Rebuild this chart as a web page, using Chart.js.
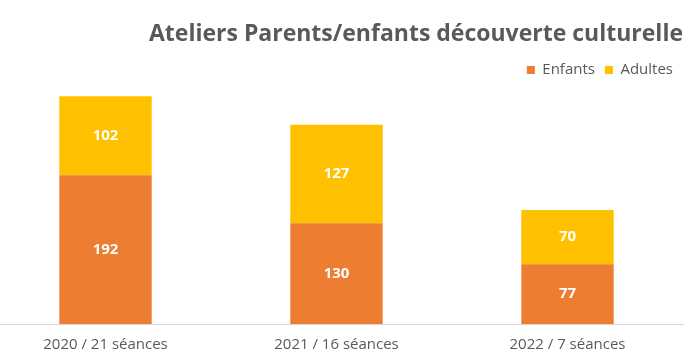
<!DOCTYPE html>
<html><head><meta charset="utf-8">
<script src="https://cdn.jsdelivr.net/npm/chart.js@4/dist/chart.umd.min.js"></script>
<style>
html,body{margin:0;padding:0;background:#fff;overflow:hidden;width:693px;height:356px}
#wrap{position:absolute;left:-10px;top:0;width:703px;height:356px}
</style></head><body>
<div id="wrap"><canvas id="c"></canvas></div>
<script>
const categories = ['2020 / 21 séances', '2021 / 16 séances', '2022 / 7 séances'];
const enfants = [192, 130, 77];
const adultes = [102, 127, 70];
const seriesNames = ['Enfants', 'Adultes'];
const titleText = 'Ateliers Parents/enfants découverte culturelle';

const barLabels = {
  id: 'barLabels',
  afterDatasetsDraw(chart) {
    const ctx = chart.ctx;
    ctx.save();
    ctx.fillStyle = '#ffffff';
    ctx.font = 'bold 15px "Open Sans"';
    ctx.textAlign = 'center';
    ctx.textBaseline = 'middle';
    chart.data.datasets.forEach((ds, i) => {
      const meta = chart.getDatasetMeta(i);
      meta.data.forEach((el, j) => {
        const p = el.getProps(['x', 'y', 'base'], true);
        ctx.fillText(String(ds.data[j]), p.x, (p.y + p.base) / 2);
      });
    });
    ctx.restore();
  }
};

new Chart(document.getElementById('c'), {
  type: 'bar',
  data: {
    labels: categories,
    datasets: [
      { label: seriesNames[0], data: enfants, backgroundColor: '#ED7D31', borderWidth: 0 },
      { label: seriesNames[1], data: adultes, backgroundColor: '#FFC000', borderWidth: 0 }
    ]
  },
  options: {
    responsive: true,
    maintainAspectRatio: false,
    animation: false,
    devicePixelRatio: 1,
    categoryPercentage: 1,
    barPercentage: 0.4,
    layout: { padding: { left: 0, right: 10, top: 0, bottom: -10 } },
    plugins: {
      tooltip: { enabled: false },
      title: {
        display: true, text: titleText, align: 'end', color: '#595959',
        font: { family: 'Open Sans', weight: 'bold', size: 23 },
        padding: { top: 21, bottom: 4 }
      },
      legend: {
        position: 'top', align: 'end',
        labels: {
          boxWidth: 8, boxHeight: 8, padding: 10, color: '#595959',
          font: { family: 'Open Sans', size: 15 }
        }
      }
    },
    scales: {
      x: {
        stacked: true,
        grid: { display: false, drawTicks: false },
        border: { display: true, color: '#d9d9d9', width: 1 },
        ticks: { color: '#595959', font: { family: 'Open Sans', size: 15 }, padding: 12 }
      },
      y: { stacked: true, display: false, min: 0, max: 305 }
    }
  },
  plugins: [barLabels]
});
</script>
</body></html>
